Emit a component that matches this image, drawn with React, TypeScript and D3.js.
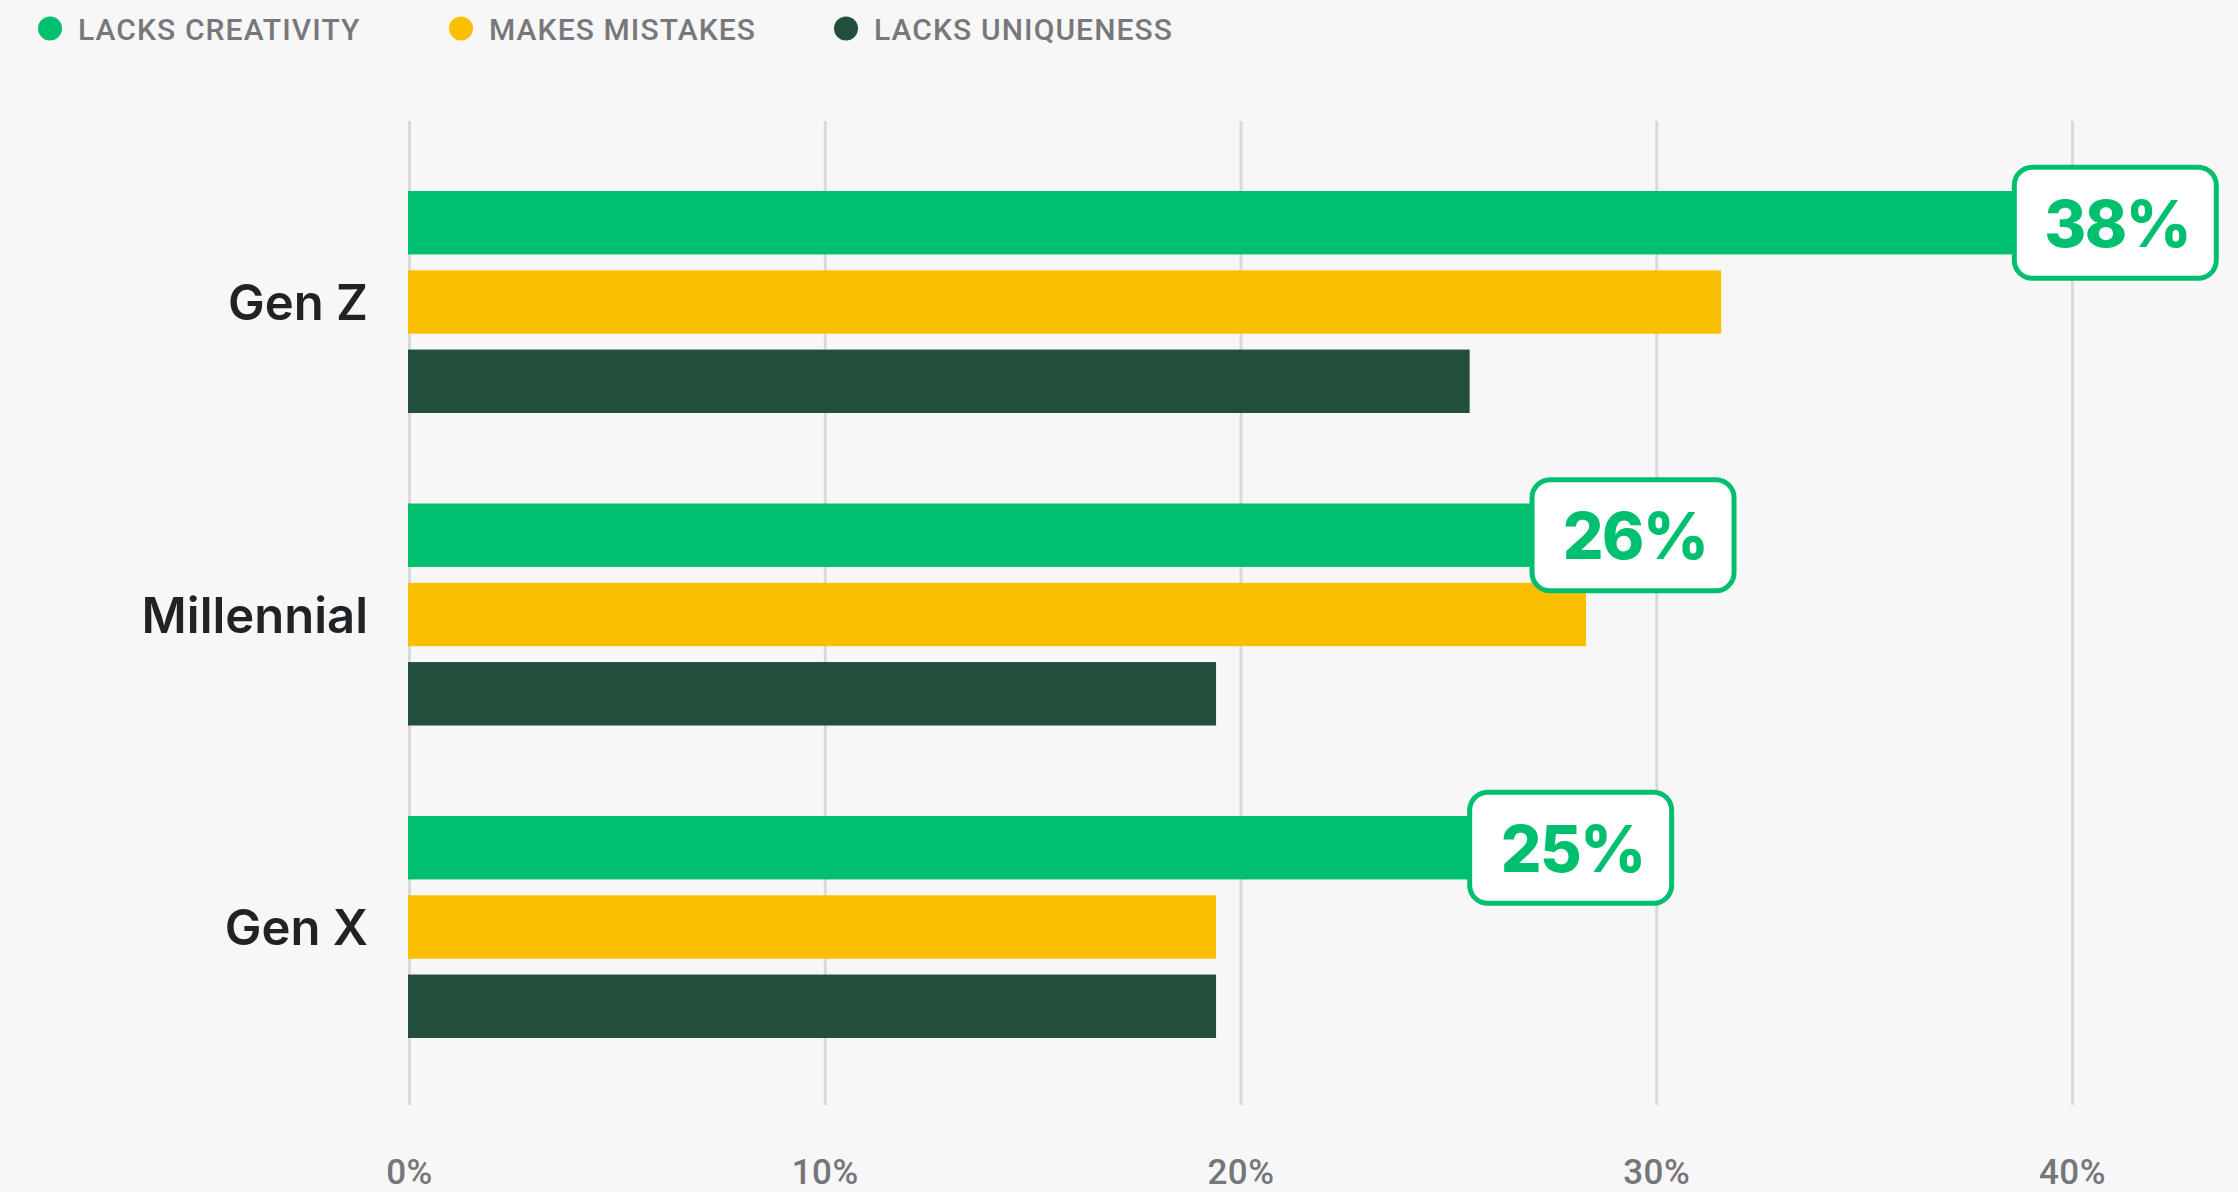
import React from "react";
import * as d3 from "d3";

const groups = ["Gen Z", "Millennial", "Gen X"];
const seriesNames = ["LACKS CREATIVITY", "MAKES MISTAKES", "LACKS UNIQUENESS"];
const lacksCreativity = [38.6, 27, 25.5];
const makesMistakes = [31.55, 28.3, 19.4];
const lacksUniqueness = [25.5, 19.4, 19.4];
const badgeLabels = ["38%", "26%", "25%"];
const xTicks = [0, 10, 20, 30, 40];

const colors = ["#00c06f", "#fac000", "#224f3c"];
const W = 2238;
const H = 1192;
const legendX = [50, 461, 846];

export default function App() {
  const seriesValues = [lacksCreativity, makesMistakes, lacksUniqueness];
  const x = d3.scaleLinear().domain([0, 40]).range([409.5, 2072.5]);
  const y0 = d3.scaleBand<string>().domain(groups).range([191, 191 + 3 * 312.5]).paddingInner(0).paddingOuter(0);
  const y1 = d3.scaleBand<string>().domain(seriesNames).range([0, 222]).paddingInner(0.2).paddingOuter(0);
  const bw = y1.bandwidth();
  const groupCenter = (g: string) => (y0(g) as number) + 222 / 2;

  return (
    <svg width={W} height={H} style={{ position: "absolute", left: 0, top: 0, display: "block", background: "#f7f7f7" }}>
      <rect x={0} y={0} width={W} height={H} fill="#f7f7f7" />
      {/* legend */}
      {seriesNames.map((s, i) => (
        <g key={s}>
          <circle cx={legendX[i]} cy={28.5} r={12} fill={colors[i]} />
          <text x={legendX[i] + 28} y={39.5} fontFamily="Roboto, sans-serif" fontWeight={500} fontSize={30} letterSpacing={1.1} fill="#77777c">
            {s}
          </text>
        </g>
      ))}
      {/* gridlines */}
      {xTicks.map((t) => (
        <line key={t} x1={x(t)} x2={x(t)} y1={121} y2={1105} stroke="#d9d9d9" strokeWidth={3} />
      ))}
      {xTicks.map((t) => (
        <text key={"t" + t} x={x(t)} y={1184} textAnchor="middle" fontFamily="Roboto, sans-serif" fontWeight={500} fontSize={35} letterSpacing={0.5} fill="#75757a">
          {t + "%"}
        </text>
      ))}
      {/* bars */}
      {groups.map((g, gi) => (
        <g key={g}>
          <text x={368} y={groupCenter(g) + 18} textAnchor="end" fontFamily="Inter, sans-serif" fontWeight={600} fontSize={49} fill="#1f2326">
            {g}
          </text>
          {seriesNames.map((s, si) => (
            <rect key={s} x={x(0) - 1.5} y={(y0(g) as number) + (y1(s) as number)} width={x(seriesValues[si][gi]) - x(0) + 1.5} height={bw} fill={colors[si]} />
          ))}
        </g>
      ))}
      {/* badges */}
      {groups.map((g, gi) => {
        const cy = (y0(g) as number) + (y1(seriesNames[0]) as number) + bw / 2;
        const bx = x(lacksCreativity[gi]);
        const bwid = 202;
        const bh = 111;
        return (
          <g key={"b" + g}>
            <rect x={bx} y={cy - bh / 2} width={bwid} height={bh} rx={18} ry={18} fill="#ffffff" stroke="#00c06f" strokeWidth={5} />
            <text x={bx + bwid / 2 + 2} y={cy + 24} textAnchor="middle" fontFamily="Inter, sans-serif" fontWeight={800} fontSize={64} letterSpacing={-1.5} fill="#00c06f">
              {badgeLabels[gi]}
            </text>
          </g>
        );
      })}
    </svg>
  );
}
